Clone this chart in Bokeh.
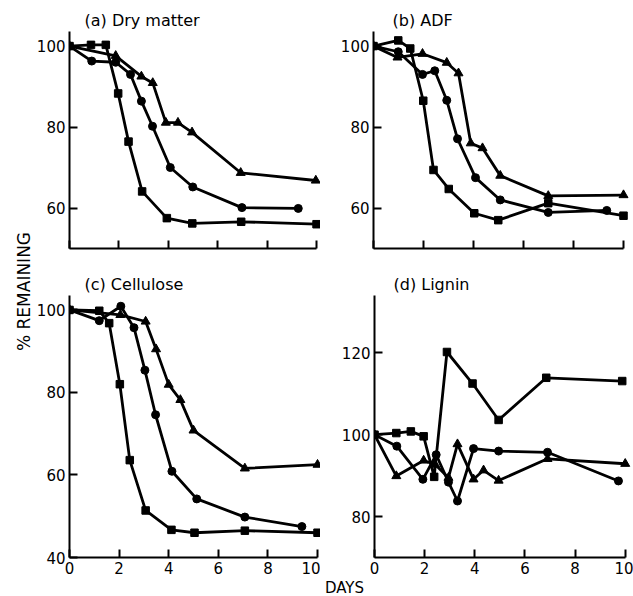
import math
from bokeh.plotting import figure
from bokeh.models import Range1d, FixedTicker
from bokeh.layouts import row, column
from bokeh.core.properties import value
from bokeh.embed import file_html
from bokeh.resources import INLINE

FONT = "DejaVu Sans"

# ---------------- data (days, % remaining) ----------------
# (a) Dry matter
a_sq_x = [0, 0.87, 1.47, 1.97, 2.39, 2.94, 3.94, 4.97, 6.95, 10]
a_sq_y = [100, 100.3, 100.3, 88.3, 76.4, 64.1, 57.5, 56.2, 56.6, 56.0]
a_ci_x = [0, 0.9, 1.87, 2.47, 2.91, 3.36, 4.08, 4.99, 6.98, 9.26]
a_ci_y = [100, 96.3, 96.0, 93.0, 86.4, 80.2, 70.0, 65.2, 60.1, 59.9]
a_tr_x = [0, 1.87, 2.91, 3.37, 3.9, 4.39, 4.96, 6.93, 9.97]
a_tr_y = [100, 97.6, 92.5, 90.9, 81.1, 81.1, 78.7, 68.7, 66.8]

# (b) ADF
b_sq_x = [0, 0.99, 1.47, 1.99, 2.4, 3.01, 4.03, 4.99, 6.99, 10]
b_sq_y = [100, 101.4, 99.4, 86.5, 69.4, 64.7, 58.7, 57.0, 61.2, 58.1]
b_ci_x = [0, 0.99, 1.96, 2.45, 2.93, 3.36, 4.08, 5.07, 6.99, 9.33]
b_ci_y = [100, 98.6, 93.0, 93.9, 86.6, 77.1, 67.5, 62.0, 58.9, 59.4]
b_tr_x = [0, 0.96, 1.96, 2.93, 3.4, 3.89, 4.36, 5.07, 6.99, 10]
b_tr_y = [100, 97.2, 98.1, 95.9, 93.3, 76.0, 74.8, 68.0, 63.0, 63.2]

# (c) Cellulose
c_sq_x = [0, 1.2, 1.6, 2.03, 2.43, 3.07, 4.11, 5.04, 7.07, 10]
c_sq_y = [100, 99.8, 96.8, 82.0, 63.6, 51.4, 46.7, 46.0, 46.5, 46.0]
c_ci_x = [0, 1.2, 2.07, 2.6, 3.04, 3.47, 4.13, 5.13, 7.07, 9.37]
c_ci_y = [100, 97.4, 100.9, 95.7, 85.4, 74.6, 60.9, 54.2, 49.8, 47.5]
c_tr_x = [0, 2.05, 3.07, 3.49, 4.0, 4.47, 5.0, 7.07, 10]
c_tr_y = [100, 98.8, 97.2, 90.5, 81.9, 78.2, 70.8, 61.6, 62.5]

# (d) Lignin
d_sq_x = [0, 0.87, 1.45, 1.96, 2.38, 2.89, 3.91, 4.95, 6.85, 9.88]
d_sq_y = [100, 100.4, 100.8, 99.6, 89.7, 120.2, 112.5, 103.6, 113.9, 113.1]
d_ci_x = [0, 0.89, 1.93, 2.46, 2.95, 3.31, 3.95, 4.95, 6.9, 9.73]
d_ci_y = [100, 97.2, 89.1, 95.1, 88.4, 83.8, 96.6, 96.0, 95.7, 88.7]
d_tr_x = [0, 0.87, 1.96, 2.42, 2.95, 3.31, 3.95, 4.35, 4.95, 6.9, 10]
d_tr_y = [100, 89.9, 93.7, 92.7, 89.5, 97.7, 89.1, 91.3, 88.8, 94.1, 92.9]

x_ticks = [0, 2, 4, 6, 8, 10]
titles = ["(a) Dry matter", "(b) ADF", "(c) Cellulose", "(d) Lignin"]
x_label = "DAYS"
y_label = "% REMAINING"


def panel(title, series, x_end, y_rng, y_ticks, width, height, mb_left,
          mb_top, mb_bottom, show_x_labels, title_offset):
    p = figure(width=width, height=height,
               x_range=Range1d(0, x_end), y_range=Range1d(*y_rng),
               output_backend="svg", toolbar_location=None,
               min_border=0, min_border_left=mb_left, min_border_right=0,
               min_border_top=mb_top, min_border_bottom=mb_bottom,
               title=title)
    p.outline_line_color = None
    p.grid.visible = False
    p.background_fill_color = "white"
    p.border_fill_color = "white"
    p.title.text_font = FONT
    p.title.text_font_size = "16px"
    p.title.text_font_style = "normal"
    p.title.text_color = "black"
    p.title.align = "left"
    p.title.offset = title_offset
    p.title.standoff = 3

    for ax in (p.xaxis[0], p.yaxis[0]):
        ax.axis_line_width = 2
        ax.axis_line_color = "black"
        ax.major_tick_line_width = 2
        ax.major_tick_line_color = "black"
        ax.major_tick_in = 8
        ax.major_tick_out = 0
        ax.minor_tick_line_color = None
        ax.major_label_text_font = FONT
        ax.major_label_text_font_size = "15px"
        ax.major_label_text_color = "black"
    p.xaxis.ticker = FixedTicker(ticks=x_ticks)
    p.xaxis.bounds = (0, 10)
    p.xaxis.major_label_standoff = 4
    p.yaxis.ticker = FixedTicker(ticks=y_ticks)
    p.yaxis.major_label_standoff = 4
    if not show_x_labels:
        p.xaxis.major_label_overrides = {t: "" for t in x_ticks}

    (sx, sy), (cx, cy), (tx, ty) = series
    lw = 2.8
    p.line(sx, sy, line_color="black", line_width=lw)
    p.line(cx, cy, line_color="black", line_width=lw)
    p.line(tx, ty, line_color="black", line_width=lw)
    p.scatter(sx, sy, marker="square", size=7.5, color="black")
    p.scatter(cx, cy, marker="circle", size=8, color="black")
    p.scatter(tx, ty, marker="triangle", size=9, color="black")
    return p


pa = panel(titles[0], [(a_sq_x, a_sq_y), (a_ci_x, a_ci_y), (a_tr_x, a_tr_y)],
           10.16, (50, 103.6), [60, 80, 100], 287, 270, 34, 31, 22, False, 15)
pb = panel(titles[1], [(b_sq_x, b_sq_y), (b_ci_x, b_ci_y), (b_tr_x, b_tr_y)],
           10.4, (50, 103.6), [60, 80, 100], 313, 270, 53, 31, 22, False, 19)
pc = panel(titles[2], [(c_sq_x, c_sq_y), (c_ci_x, c_ci_y), (c_tr_x, c_tr_y)],
           10.12, (40, 103.5), [40, 60, 80, 100], 287, 308, 34, 25, 21, True, 15)
pd = panel(titles[3], [(d_sq_x, d_sq_y), (d_ci_x, d_ci_y), (d_tr_x, d_tr_y)],
           10.33, (70, 134), [80, 100, 120], 313, 308, 54, 23, 21, True, 19)


def strip(width, height):
    s = figure(width=width, height=height, x_range=Range1d(0, width),
               y_range=Range1d(0, height), output_backend="svg",
               toolbar_location=None, min_border=0,
               x_axis_location=None, y_axis_location=None)
    s.outline_line_color = None
    s.grid.visible = False
    return s


# left strip with the shared y label
pl = strip(33, 596)
pl.text(x=[23], y=[305], text=[y_label], angle=math.pi / 2,
        text_align="center", text_baseline="middle",
        text_font=value(FONT), text_font_size="17px", text_color="black")

# bottom strip with the shared x label
pbot = strip(600, 18)
pbot.text(x=[311], y=[0], text=[x_label], text_align="center",
          text_baseline="bottom", text_font=value(FONT),
          text_font_size="15px", text_color="black")

layout = row(pl, column(row(pa, pb), row(pc, pd), pbot))

open("out.html", "w").write(file_html(layout, INLINE))
